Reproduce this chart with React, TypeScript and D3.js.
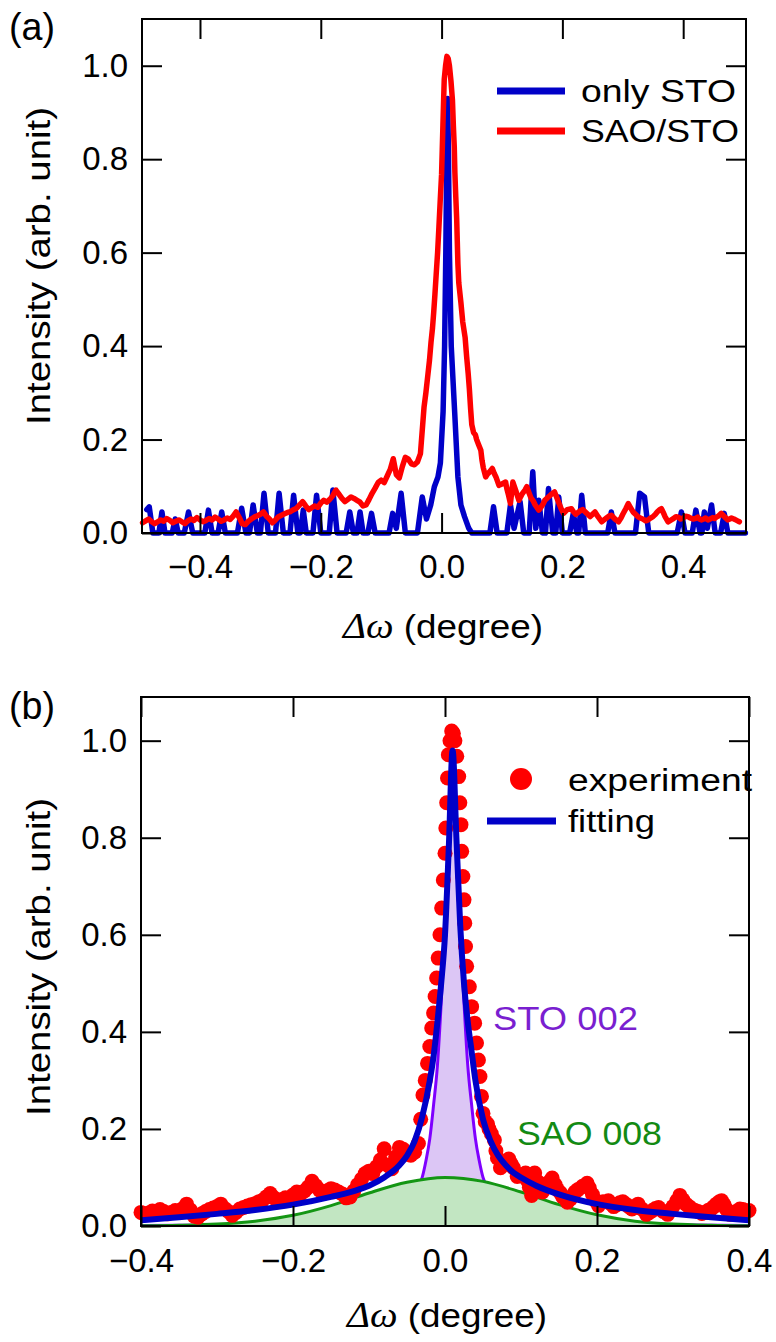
import React, { useRef, useEffect } from "react";
import * as d3 from "d3";

/* tick values */
const xTicksA = [-0.4, -0.2, 0.0, 0.2, 0.4];
const xTicksB = [-0.4, -0.2, 0.0, 0.2, 0.4];
const yTicks = [0.0, 0.2, 0.4, 0.6, 0.8, 1.0];

/* (a) only STO : [domega, intensity] */
const onlySTO: [number, number][] = [
  [-0.488, 0.05], [-0.484, 0.056], [-0.478, 0], [-0.468, 0], [-0.463, 0.045], [-0.458, 0],
  [-0.446, 0], [-0.441, 0.03], [-0.436, 0], [-0.426, 0], [-0.419, 0.045], [-0.412, 0],
  [-0.392, 0], [-0.386, 0.049], [-0.38, 0], [-0.37, 0], [-0.364, 0.045], [-0.358, 0],
  [-0.338, 0], [-0.331, 0.053], [-0.324, 0], [-0.318, 0], [-0.312, 0.06], [-0.305, 0],
  [-0.3, 0], [-0.294, 0.085], [-0.287, 0], [-0.275, 0], [-0.269, 0.085], [-0.262, 0],
  [-0.251, 0], [-0.245, 0.081], [-0.238, 0], [-0.234, 0], [-0.229, 0.049], [-0.224, 0],
  [-0.213, 0], [-0.207, 0.081], [-0.2, 0], [-0.186, 0], [-0.18, 0.092], [-0.173, 0],
  [-0.158, 0], [-0.152, 0.045], [-0.146, 0], [-0.14, 0], [-0.135, 0.045], [-0.13, 0],
  [-0.122, 0], [-0.116, 0.042], [-0.11, 0], [-0.087, 0], [-0.081, 0.042], [-0.075, 0.01],
  [-0.067, 0.085], [-0.06, 0], [-0.04, 0], [-0.032, 0.077], [-0.025, 0.03], [-0.018, 0.06],
  [-0.012, 0.099], [-0.006, 0.12], [-0.002, 0.15], [0.0025, 0.26], [0.005, 0.4], [0.007, 0.6],
  [0.0085, 0.8], [0.01, 0.93], [0.0115, 0.8], [0.013, 0.6], [0.016, 0.4], [0.022, 0.25],
  [0.027, 0.12], [0.032, 0.06], [0.038, 0.035], [0.045, 0.01], [0.05, 0], [0.08, 0],
  [0.086, 0.056], [0.092, 0], [0.108, 0], [0.114, 0.06], [0.12, 0.01], [0.13, 0.067],
  [0.136, 0], [0.145, 0], [0.151, 0.131], [0.156, 0.01], [0.161, 0.07], [0.167, 0],
  [0.172, 0], [0.177, 0.095], [0.184, 0], [0.189, 0], [0.194, 0.077], [0.2, 0],
  [0.212, 0], [0.218, 0.042], [0.224, 0], [0.227, 0], [0.232, 0.081], [0.238, 0],
  [0.275, 0], [0.281, 0.045], [0.287, 0], [0.321, 0], [0.328, 0.085], [0.336, 0.077],
  [0.343, 0], [0.39, 0], [0.397, 0.045], [0.403, 0], [0.415, 0], [0.421, 0.049],
  [0.428, 0], [0.431, 0], [0.435, 0.045], [0.44, 0.01], [0.447, 0.06], [0.453, 0],
  [0.462, 0], [0.468, 0.042], [0.474, 0], [0.503, 0],
];

/* (a) SAO/STO, also the "experiment" points of (b) */
const saoSTO: [number, number][] = [
  [-0.495, 0.022], [-0.49, 0.026], [-0.485, 0.03], [-0.48, 0.024], [-0.475, 0.02],
  [-0.47, 0.024], [-0.465, 0.028], [-0.46, 0.025], [-0.455, 0.031], [-0.45, 0.027],
  [-0.445, 0.022], [-0.44, 0.025], [-0.435, 0.028], [-0.43, 0.024], [-0.425, 0.02],
  [-0.42, 0.026], [-0.415, 0.03], [-0.41, 0.027], [-0.405, 0.033], [-0.4, 0.028],
  [-0.395, 0.024], [-0.39, 0.027], [-0.385, 0.031], [-0.38, 0.028], [-0.375, 0.034],
  [-0.37, 0.03], [-0.365, 0.025], [-0.36, 0.028], [-0.355, 0.032], [-0.35, 0.029],
  [-0.345, 0.036], [-0.34, 0.045], [-0.335, 0.033], [-0.33, 0.02], [-0.325, 0.018],
  [-0.32, 0.025], [-0.315, 0.03], [-0.31, 0.034], [-0.305, 0.037], [-0.3, 0.04],
  [-0.295, 0.045], [-0.29, 0.036], [-0.285, 0.03], [-0.28, 0.022], [-0.275, 0.028],
  [-0.27, 0.035], [-0.265, 0.038], [-0.26, 0.041], [-0.255, 0.044], [-0.25, 0.046],
  [-0.245, 0.05], [-0.24, 0.053], [-0.235, 0.06], [-0.23, 0.067], [-0.225, 0.058],
  [-0.22, 0.05], [-0.215, 0.054], [-0.21, 0.058], [-0.205, 0.055], [-0.2, 0.064],
  [-0.195, 0.07], [-0.19, 0.066], [-0.185, 0.072], [-0.18, 0.08], [-0.175, 0.092],
  [-0.17, 0.083], [-0.165, 0.074], [-0.16, 0.067], [-0.155, 0.072], [-0.15, 0.077],
  [-0.145, 0.074], [-0.14, 0.07], [-0.135, 0.066], [-0.13, 0.058], [-0.125, 0.06],
  [-0.12, 0.072], [-0.115, 0.085], [-0.11, 0.096], [-0.105, 0.108], [-0.1, 0.113],
  [-0.095, 0.108], [-0.09, 0.122], [-0.085, 0.136], [-0.08, 0.159], [-0.075, 0.125],
  [-0.07, 0.118], [-0.065, 0.142], [-0.06, 0.162], [-0.055, 0.158], [-0.05, 0.148],
  [-0.045, 0.146], [-0.04, 0.152], [-0.035, 0.17], [-0.032, 0.22], [-0.029, 0.27],
  [-0.026, 0.3], [-0.023, 0.335], [-0.02, 0.37], [-0.0175, 0.408], [-0.015, 0.439],
  [-0.013, 0.473], [-0.011, 0.511], [-0.009, 0.552], [-0.0066, 0.6], [-0.0044, 0.655],
  [-0.0022, 0.713], [0, 0.768], [0.0011, 0.82], [0.0022, 0.872], [0.0033, 0.923],
  [0.0044, 0.971], [0.0066, 1.0], [0.0088, 1.02], [0.011, 1.015], [0.013, 1.0],
  [0.0155, 0.968], [0.018, 0.926], [0.0195, 0.872], [0.021, 0.827], [0.022, 0.772],
  [0.0235, 0.72], [0.025, 0.672], [0.026, 0.624], [0.027, 0.576], [0.0285, 0.535],
  [0.032, 0.493], [0.035, 0.452], [0.039, 0.418], [0.0415, 0.377], [0.044, 0.342],
  [0.046, 0.308], [0.048, 0.267], [0.05, 0.232], [0.053, 0.215], [0.056, 0.21],
  [0.058, 0.2], [0.061, 0.19], [0.065, 0.177], [0.067, 0.155], [0.069, 0.14],
  [0.073, 0.12], [0.076, 0.126], [0.079, 0.13], [0.084, 0.138], [0.087, 0.128],
  [0.09, 0.12], [0.095, 0.102], [0.1, 0.105], [0.106, 0.109], [0.108, 0.095],
  [0.111, 0.08], [0.114, 0.063], [0.118, 0.109], [0.123, 0.09], [0.128, 0.07],
  [0.131, 0.078], [0.134, 0.085], [0.138, 0.092], [0.141, 0.099], [0.145, 0.085],
  [0.148, 0.075], [0.152, 0.068], [0.155, 0.06], [0.161, 0.049], [0.165, 0.056],
  [0.168, 0.062], [0.171, 0.07], [0.175, 0.075], [0.181, 0.082], [0.187, 0.088],
  [0.19, 0.078], [0.194, 0.065], [0.198, 0.052], [0.202, 0.042], [0.208, 0.05],
  [0.215, 0.052], [0.218, 0.046], [0.222, 0.04], [0.226, 0.044], [0.23, 0.048],
  [0.234, 0.05], [0.238, 0.045], [0.242, 0.04], [0.246, 0.035], [0.25, 0.04],
  [0.254, 0.045], [0.259, 0.035], [0.265, 0.024], [0.269, 0.028], [0.273, 0.032],
  [0.277, 0.036], [0.281, 0.038], [0.287, 0.03], [0.293, 0.024], [0.297, 0.032],
  [0.3, 0.04], [0.305, 0.052], [0.309, 0.063], [0.313, 0.054], [0.317, 0.045],
  [0.321, 0.04], [0.325, 0.035], [0.329, 0.032], [0.333, 0.03], [0.338, 0.026],
  [0.342, 0.028], [0.346, 0.032], [0.35, 0.035], [0.354, 0.04], [0.357, 0.045],
  [0.361, 0.05], [0.364, 0.052], [0.367, 0.044], [0.37, 0.035], [0.375, 0.024],
  [0.379, 0.027], [0.383, 0.03], [0.388, 0.035], [0.392, 0.034], [0.396, 0.03],
  [0.4, 0.032], [0.404, 0.036], [0.408, 0.035], [0.412, 0.032], [0.416, 0.03],
  [0.42, 0.031], [0.424, 0.034], [0.427, 0.03], [0.43, 0.028], [0.434, 0.03],
  [0.437, 0.032], [0.441, 0.028], [0.445, 0.03], [0.449, 0.033], [0.452, 0.031],
  [0.455, 0.034], [0.458, 0.036], [0.463, 0.042], [0.466, 0.038], [0.469, 0.034],
  [0.474, 0.028], [0.477, 0.03], [0.48, 0.032], [0.484, 0.03], [0.487, 0.028],
  [0.49, 0.026], [0.493, 0.024],
];

/* (b) fitting curve */
const fitting: [number, number][] = [
  [-0.4, 0.012], [-0.35, 0.018], [-0.3, 0.025], [-0.25, 0.033], [-0.2, 0.044], [-0.15, 0.06],
  [-0.12, 0.072], [-0.1, 0.083], [-0.08, 0.1], [-0.06, 0.125], [-0.05, 0.145], [-0.04, 0.175],
  [-0.03, 0.225], [-0.02, 0.3], [-0.015, 0.35], [-0.01, 0.42], [-0.005, 0.5], [0, 0.6],
  [0.005, 0.78], [0.01, 0.98], [0.015, 0.8], [0.02, 0.62], [0.025, 0.5], [0.03, 0.42],
  [0.035, 0.36], [0.04, 0.3], [0.05, 0.22], [0.06, 0.175], [0.07, 0.145], [0.08, 0.125],
  [0.09, 0.11], [0.1, 0.1], [0.12, 0.083], [0.15, 0.065], [0.2, 0.045], [0.25, 0.033],
  [0.3, 0.025], [0.35, 0.018], [0.4, 0.012],
];

/* (b) STO 002 component */
const sto002: [number, number][] = [
  [-0.4, 0.001], [-0.3, 0.002], [-0.2, 0.004], [-0.15, 0.007], [-0.1, 0.014], [-0.08, 0.022],
  [-0.06, 0.036], [-0.05, 0.05], [-0.04, 0.068], [-0.03, 0.1], [-0.025, 0.135], [-0.02, 0.18],
  [-0.015, 0.25], [-0.01, 0.33], [-0.005, 0.46], [0, 0.62], [0.005, 0.8], [0.01, 0.88],
  [0.015, 0.8], [0.02, 0.62], [0.025, 0.46], [0.03, 0.33], [0.035, 0.25], [0.04, 0.18],
  [0.045, 0.135], [0.05, 0.1], [0.06, 0.068], [0.07, 0.05], [0.08, 0.036], [0.1, 0.022],
  [0.12, 0.014], [0.17, 0.007], [0.22, 0.004], [0.32, 0.002], [0.4, 0.001],
];

/* (b) SAO 008 component */
const sao008: [number, number][] = [
  [-0.4, 0.0005], [-0.35, 0.0015], [-0.3, 0.004], [-0.25, 0.01], [-0.2, 0.022], [-0.15, 0.042],
  [-0.1, 0.068], [-0.05, 0.09], [0, 0.1], [0.05, 0.092], [0.1, 0.07], [0.15, 0.044],
  [0.2, 0.023], [0.25, 0.01], [0.3, 0.004], [0.35, 0.0015], [0.4, 0.0005],
];

const FONT = "'Liberation Sans', Arial, sans-serif";
const BLUE = "#0000c8";
const RED = "#ff0000";
const PURPLE = "#7f00ff";
const GREEN = "#149614";

const App = () => {
  const svgRef = useRef(null);

  /* text helper: font size plus the width the reference text takes */
  const label = (g, x, y, str, size, len, color = "#000") => {
    const t = g.append("text").attr("x", x).attr("y", y)
      .attr("font-size", size).attr("font-family", FONT).attr("fill", color).text(str);
    if (len) t.attr("textLength", len).attr("lengthAdjust", "spacingAndGlyphs");
    return t;
  };

  /* frame, inward ticks on all four sides, tick labels */
  const drawAxes = (g, box, x, y, xTicks, pad) => {
    const fmt = d3.format(".1f");
    g.append("g")
      .attr("transform", `translate(0,${box.bottom})`)
      .call(d3.axisBottom(x).tickValues(xTicks).tickSize(-20).tickSizeOuter(0).tickPadding(pad).tickFormat(fmt));
    g.append("g")
      .attr("transform", `translate(0,${box.top})`)
      .call(d3.axisTop(x).tickValues(xTicks).tickSize(-20).tickSizeOuter(0).tickFormat(() => ""));
    g.append("g")
      .attr("transform", `translate(${box.left},0)`)
      .call(d3.axisLeft(y).tickValues(yTicks).tickSize(-20).tickSizeOuter(0).tickPadding(14).tickFormat(fmt));
    g.append("g")
      .attr("transform", `translate(${box.right},0)`)
      .call(d3.axisRight(y).tickValues(yTicks).tickSize(-20).tickSizeOuter(0).tickFormat(() => ""));
    g.selectAll(".domain").remove();
    g.selectAll(".tick line").attr("stroke", "#000").attr("stroke-width", 2);
    g.selectAll(".tick text").attr("font-size", 33).attr("font-family", FONT).attr("fill", "#000");
    g.append("rect")
      .attr("x", box.left).attr("y", box.top)
      .attr("width", box.right - box.left).attr("height", box.bottom - box.top)
      .attr("fill", "none").attr("stroke", "#000").attr("stroke-width", 2);
  };

  const axisTitles = (g, cx, baseX, cy, panel, panelY) => {
    const xt = g.append("text")
      .attr("x", cx).attr("y", baseX)
      .attr("text-anchor", "middle")
      .attr("font-size", 33).attr("font-family", FONT)
      .attr("textLength", 200).attr("lengthAdjust", "spacingAndGlyphs");
    xt.append("tspan").attr("font-family", "'Liberation Serif', serif").attr("font-style", "italic").attr("font-size", 35).text("Δω");
    xt.append("tspan").text(" (degree)");

    g.append("text")
      .attr("transform", `translate(50,${cy}) rotate(-90)`)
      .attr("text-anchor", "middle")
      .attr("font-size", 33).attr("font-family", FONT)
      .attr("textLength", 318).attr("lengthAdjust", "spacingAndGlyphs")
      .text("Intensity (arb. unit)");

    label(g, 9, panelY, panel, 38, 46);
  };

  const drawChart = () => {
    const svg = d3.select(svgRef.current);
    svg.selectAll("*").remove();

    /* ---------- panel (a) ---------- */
    const boxA = { left: 142, right: 746, top: 19, bottom: 533 };
    const xA = d3.scaleLinear().domain([-0.496, 0.504]).range([boxA.left, boxA.right]);
    const yA = d3.scaleLinear().domain([0, 1.1]).range([boxA.bottom, boxA.top]);
    const gA = svg.append("g");
    const lineA = d3.line().x((d) => xA(d[0])).y((d) => yA(d[1]));

    gA.append("path").datum(onlySTO).attr("d", lineA)
      .attr("fill", "none").attr("stroke", BLUE).attr("stroke-width", 5.5)
      .attr("stroke-linejoin", "round").attr("stroke-linecap", "round");
    gA.append("path").datum(saoSTO).attr("d", lineA)
      .attr("fill", "none").attr("stroke", RED).attr("stroke-width", 5.5)
      .attr("stroke-linejoin", "round").attr("stroke-linecap", "round");

    drawAxes(gA, boxA, xA, yA, xTicksA, 22);
    axisTitles(gA, 443, 638, 266, "(a)", 40);

    /* legend (a) */
    const legA = [
      { name: "only STO", color: BLUE, len: 155 },
      { name: "SAO/STO", color: RED, len: 158 },
    ];
    legA.forEach((d, i) => {
      const yy = 91 + i * 40;
      gA.append("line").attr("x1", 497).attr("x2", 565).attr("y1", yy).attr("y2", yy)
        .attr("stroke", d.color).attr("stroke-width", 7);
      label(gA, 581, yy + 11, d.name, 31, d.len);
    });

    /* ---------- panel (b) ---------- */
    const boxB = { left: 141, right: 749, top: 697, bottom: 1226 };
    const xB = d3.scaleLinear().domain([-0.4, 0.4]).range([boxB.left, boxB.right]);
    const yB = d3.scaleLinear().domain([0, 1.09]).range([boxB.bottom, boxB.top]);
    const gB = svg.append("g");
    const lineB = d3.line().x((d) => xB(d[0])).y((d) => yB(d[1])).curve(d3.curveMonotoneX);
    const areaB = d3.area().x((d) => xB(d[0])).y0(yB(0)).y1((d) => yB(d[1])).curve(d3.curveMonotoneX);

    gB.append("path").datum(sto002).attr("d", areaB).attr("fill", "#dcc6f5");
    gB.append("path").datum(sto002).attr("d", lineB)
      .attr("fill", "none").attr("stroke", PURPLE).attr("stroke-width", 3);
    gB.append("path").datum(sao008).attr("d", areaB).attr("fill", "#c2e6c2");
    gB.append("path").datum(sao008).attr("d", lineB)
      .attr("fill", "none").attr("stroke", GREEN).attr("stroke-width", 3);

    gB.selectAll(".dot")
      .data(saoSTO.filter((d) => Math.abs(d[0]) <= 0.402))
      .enter()
      .append("circle")
      .attr("class", "dot")
      .attr("cx", (d) => xB(d[0]))
      .attr("cy", (d) => yB(d[1]))
      .attr("r", 7.5)
      .attr("fill", RED);

    gB.append("path").datum(fitting).attr("d", lineB)
      .attr("fill", "none").attr("stroke", BLUE).attr("stroke-width", 6);

    drawAxes(gB, boxB, xB, yB, xTicksB, 23);
    axisTitles(gB, 447, 1327, 957, "(b)", 719);

    /* component labels */
    label(gB, 493, 1030, "STO 002", 33, 145, "#7a1fd0");
    label(gB, 517, 1145, "SAO 008", 33, 145, "#138a13");

    /* legend (b) */
    gB.append("circle").attr("cx", 521).attr("cy", 779).attr("r", 11).attr("fill", RED);
    label(gB, 568, 791, "experiment", 31, 184);
    gB.append("line").attr("x1", 487).attr("x2", 556).attr("y1", 821).attr("y2", 821)
      .attr("stroke", BLUE).attr("stroke-width", 7);
    label(gB, 568, 832, "fitting", 31, 87);
  };

  useEffect(() => {
    drawChart();
  }, []);

  return (
    <div style={{ position: "absolute", left: 0, top: 0 }}>
      <svg ref={svgRef} width={776} height={1342} style={{ display: "block", background: "#fff" }} />
    </div>
  );
};

export default App;
